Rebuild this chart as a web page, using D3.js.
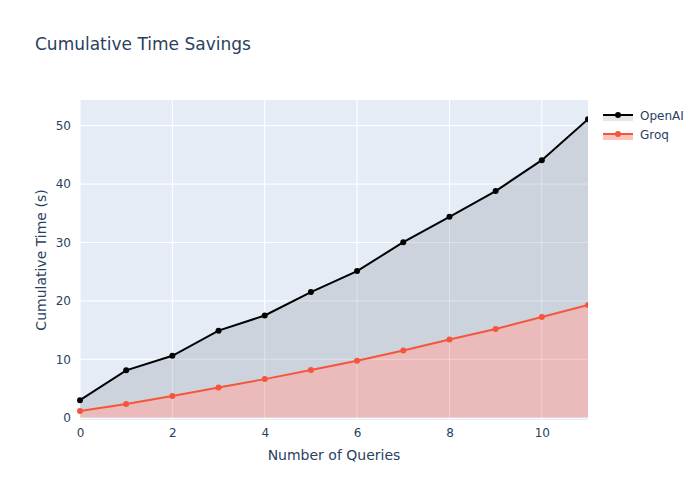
<!DOCTYPE html>
<html>
<head>
<meta charset="utf-8">
<script src="https://cdn.jsdelivr.net/npm/d3@7"></script>
<style>
  body { margin: 0; background: #fff; }
  text { font-family: "DejaVu Sans", Verdana, Arial, sans-serif; fill: #2a3f5f; }
</style>
</head>
<body>
<div id="chart"></div>
<script>
// data
var queries = [0, 1, 2, 3, 4, 5, 6, 7, 8, 9, 10, 11];
var openaiTimes = [3.0, 8.1, 10.6, 14.9, 17.5, 21.5, 25.1, 30.05, 34.4, 38.8, 44.1, 51.1];
var groqTimes = [1.15, 2.35, 3.7, 5.15, 6.6, 8.15, 9.75, 11.5, 13.4, 15.2, 17.25, 19.3];
var xTicks = [0, 2, 4, 6, 8, 10];
var yTicks = [0, 10, 20, 30, 40, 50];

var series = [
    {name: 'OpenAI', values: openaiTimes, line: '#000000', fill: '#cdd3dd', swatch: '#e6e6e6'},
    {name: 'Groq', values: groqTimes, line: '#f4553b', fill: '#ebbaba', swatch: '#fbc5bc'}
];

var W = 700, H = 500;
var margin = {top: 100, right: 112, bottom: 80, left: 80};
var width = W - margin.left - margin.right;
var height = H - margin.top - margin.bottom;

var svg = d3.select('#chart')
    .append('svg')
    .attr('width', W)
    .attr('height', H);

var g = svg.append('g')
    .attr('transform', 'translate(' + margin.left + ',' + margin.top + ')');

var x = d3.scaleLinear().domain([0, 11]).range([0, width]);
var y = d3.scaleLinear().domain([-0.4, 54.4]).range([height, 0]);

// plot background
g.append('rect')
    .attr('width', width)
    .attr('height', height)
    .attr('fill', '#e5ecf6');

// grid
g.selectAll('.xgrid').data(xTicks).enter().append('line')
    .attr('x1', d => x(d)).attr('x2', d => x(d))
    .attr('y1', 0).attr('y2', height)
    .attr('stroke', '#fff').attr('stroke-width', 1);
g.selectAll('.ygrid').data(yTicks).enter().append('line')
    .attr('x1', 0).attr('x2', width)
    .attr('y1', d => y(d)).attr('y2', d => y(d))
    .attr('stroke', '#fff').attr('stroke-width', d => d === 0 ? 2 : 1);

// fills, lines and markers
var area = d3.area()
    .x((d, i) => x(queries[i]))
    .y0(y(0))
    .y1(d => y(d));
var line = d3.line()
    .x((d, i) => x(queries[i]))
    .y(d => y(d));

series.forEach(function(s) {
    g.append('path')
        .datum(s.values)
        .attr('d', area)
        .attr('fill', s.fill);
});

// gridlines show faintly through the fills
g.selectAll('.xgrid2').data(xTicks).enter().append('line')
    .attr('x1', d => x(d)).attr('x2', d => x(d))
    .attr('y1', 0).attr('y2', height)
    .attr('stroke', '#fff').attr('stroke-opacity', 0.35);
g.selectAll('.ygrid2').data(yTicks).enter().append('line')
    .attr('x1', 0).attr('x2', width)
    .attr('y1', d => y(d)).attr('y2', d => y(d))
    .attr('stroke', '#fff').attr('stroke-opacity', 0.35);

var clip = svg.append('clipPath').attr('id', 'clip')
    .append('rect').attr('x', -6).attr('y', -6)
    .attr('width', width + 6).attr('height', height + 12);

series.forEach(function(s) {
    var sg = g.append('g').attr('clip-path', 'url(#clip)');
    sg.append('path')
        .datum(s.values)
        .attr('d', line)
        .attr('fill', 'none')
        .attr('stroke', s.line)
        .attr('stroke-width', 2);
    sg.selectAll('circle').data(s.values).enter().append('circle')
        .attr('cx', (d, i) => x(queries[i]))
        .attr('cy', d => y(d))
        .attr('r', 3)
        .attr('fill', s.line);
});

// axes
var xAxis = g.append('g')
    .attr('transform', 'translate(0,' + height + ')')
    .call(d3.axisBottom(x).tickValues(xTicks).tickSize(0).tickPadding(8));
var yAxis = g.append('g')
    .call(d3.axisLeft(y).tickValues(yTicks).tickSize(0).tickPadding(9));
[xAxis, yAxis].forEach(function(a) {
    a.select('.domain').remove();
    a.selectAll('text').style('font-size', '12px').attr('fill', '#2a3f5f');
});

// titles
svg.append('text')
    .attr('x', 35).attr('y', 50)
    .style('font-size', '17px')
    .text('Cumulative Time Savings');
svg.append('text')
    .attr('x', margin.left + width / 2).attr('y', 460)
    .attr('text-anchor', 'middle')
    .style('font-size', '14px')
    .text('Number of Queries');
svg.append('text')
    .attr('transform', 'translate(46,' + (margin.top + height / 2) + ') rotate(-90)')
    .attr('text-anchor', 'middle')
    .style('font-size', '14px')
    .text('Cumulative Time (s)');

// legend
var legend = svg.append('g').attr('transform', 'translate(603,115)');
series.forEach(function(s, i) {
    var row = legend.append('g').attr('transform', 'translate(0,' + (i * 19) + ')');
    row.append('rect')
        .attr('x', 0).attr('y', 0)
        .attr('width', 30).attr('height', 6)
        .attr('fill', s.swatch);
    row.append('line')
        .attr('x1', 0).attr('x2', 30)
        .attr('y1', 0).attr('y2', 0)
        .attr('stroke', s.line).attr('stroke-width', 2);
    row.append('circle')
        .attr('cx', 15).attr('cy', 0).attr('r', 3)
        .attr('fill', s.line);
    row.append('text')
        .attr('x', 37).attr('y', 4.5)
        .style('font-size', '12px')
        .text(s.name);
});
</script>
</body>
</html>
